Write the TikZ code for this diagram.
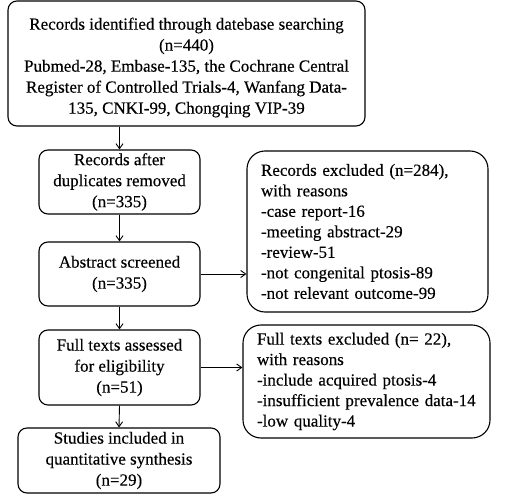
\documentclass[tikz,border=0pt]{standalone}
\usepackage{fontspec}
\setmainfont{Liberation Serif}[BoldFont=Liberation Serif, BoldFeatures={FakeBold=0.35}]
\usetikzlibrary{arrows.meta}
\begin{document}
\begin{tikzpicture}[x=1pt,y=-1pt,
  txt/.style={font=\fontsize{17}{21}\selectfont\bfseries},
  box/.style={draw, line width=1.1pt, rounded corners=9pt, inner sep=0pt, align=center, txt},
  bigbox/.style={draw, line width=1.1pt, rounded corners=18pt, inner sep=0pt, align=left, font=\fontsize{17}{20.5}\selectfont\bfseries},
  arr/.style={line width=0.9pt, -{Straight Barb[length=5pt,width=7pt]}}]
\useasboundingbox (0,0) rectangle (505,502);
\node[box, minimum width=357pt, minimum height=125pt] (b1) at (186.5,63.5) {};
\node[txt, align=center, inner sep=0pt] (b1t) at (186.5,67.5)
  {Records identified through datebase searching\\(n=440)\\Pubmed-28, Embase-135, the Cochrane Central\\Register of Controlled Trials-4, Wanfang Data-\\135, CNKI-99, Chongqing VIP-39};
\node[box, minimum width=161pt, minimum height=64pt] (b2) at (119.5,182)
  {Records after\\duplicates removed\\(n=335)};
\node[box, minimum width=161pt, minimum height=64pt] (b3) at (119.5,274)
  {Abstract screened\\(n=335)};
\node[box, minimum width=161pt, minimum height=75pt] (b4) at (119.5,367.5)
  {Full texts assessed\\for eligibility\\(n=51)};
\node[box, minimum width=202pt, minimum height=65pt] (b5) at (119,460.5)
  {Studies included in\\quantitative synthesis\\(n=29)};
\node[bigbox, minimum width=241pt, minimum height=161pt, text width=213pt] (r1) at (367.5,231.5)
  {Records excluded (n=284),\\with reasons\\-case report-16\\-meeting abstract-29\\-review-51\\-not congenital ptosis-89\\-not relevant outcome-99};
\node[bigbox, minimum width=247pt, minimum height=113pt, text width=219pt] (r2) at (366.5,381.5)
  {Full texts excluded (n= 22),\\with reasons\\-include acquired ptosis-4\\-insufficient prevalence data-14\\-low quality-4};
\draw[arr] (b1.south -| b2.north) -- (b2.north);
\draw[arr] (b2.south) -- (b3.north);
\draw[arr] (b3.south) -- (b4.north);
\draw[arr] (b4.south) -- (b5.north);
\draw[arr] (b3.east) -- (b3.east -| r1.west);
\draw[arr] (b4.east) -- (b4.east -| r2.west);
\end{tikzpicture}
\end{document}
